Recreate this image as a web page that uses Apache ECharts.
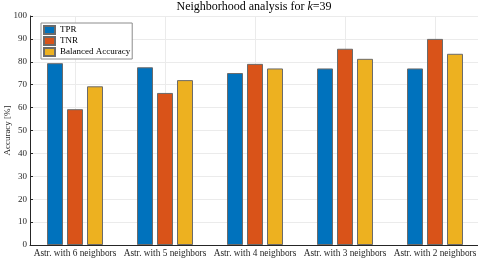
<!DOCTYPE html>
<html><head><meta charset="utf-8">
<script src="https://cdn.jsdelivr.net/npm/echarts@6/dist/echarts.min.js"></script>
<style>html,body{margin:0;padding:0;background:#fff}#c{width:478px;height:258px}</style>
</head><body><div id="c"></div>
<script>
const categories = ['Astr. with 6 neighbors','Astr. with 5 neighbors','Astr. with 4 neighbors','Astr. with 3 neighbors','Astr. with 2 neighbors'];
const tpr = [79.4, 77.6, 75.1, 77.1, 77.1];
const tnr = [59.3, 66.4, 79.1, 85.7, 90.0];
const bacc = [69.3, 72.0, 77.1, 81.3, 83.5];
const seriesNames = ['TPR','TNR','Balanced Accuracy'];
const colors = ['#0072BD','#D95319','#EDB120'];
const F = 'Liberation Serif';
const chart = echarts.init(document.getElementById('c'));
const mk = (name, data, i) => ({
  name, type:'bar', data, barWidth:16, barGap:'25%',
  itemStyle:{color:colors[i], borderColor:'#6b6b6b', borderWidth:1}
});
chart.setOption({
  animation:false,
  title:{text:'{a|Neighborhood analysis for }{b|k}{a|=39}', left:254, textAlign:'center', top:1, padding:0,
    textStyle:{rich:{a:{fontFamily:F,fontSize:12,fontWeight:'normal',color:'#000'},b:{fontFamily:F,fontSize:12,fontWeight:'normal',fontStyle:'italic',color:'#000'}}}},
  legend:{orient:'vertical', left:41, top:23, padding:[2,2,2,2], itemWidth:11, itemHeight:8, itemGap:1, itemTextGap:2,
    icon:'rect',
    borderColor:'#8c8c8c', borderWidth:1, backgroundColor:'#fff',
    textStyle:{fontFamily:F, fontSize:9, lineHeight:9.5, color:'#000'}, data:seriesNames},
  grid:{left:30, right:-2, top:16, bottom:13, containLabel:false, outerBoundsMode:'none'},
  xAxis:{type:'category', data:categories,
    axisLine:{lineStyle:{color:'#262626'}},
    axisTick:{inside:true, length:3, alignWithLabel:true, lineStyle:{color:'#262626'}},
    splitLine:{show:true, alignWithLabel:true, lineStyle:{color:'#ebebeb'}},
    axisLabel:{fontFamily:F, fontSize:9.3, color:'#262626', margin:4, interval:0}},
  yAxis:{type:'value', min:0, max:100, interval:10, name:'Accuracy [%]', nameLocation:'middle', nameGap:18,
    nameMoveOverlap:false,
    nameTextStyle:{fontFamily:F, fontSize:9, color:'#262626'},
    axisLine:{show:true, lineStyle:{color:'#262626'}},
    axisTick:{show:true, inside:true, length:3, lineStyle:{color:'#262626'}},
    splitLine:{lineStyle:{color:'#ebebeb'}},
    axisLabel:{fontFamily:F, fontSize:9, color:'#262626', margin:3}},
  series:[mk('TPR',tpr,0), mk('TNR',tnr,1), mk('Balanced Accuracy',bacc,2)]
});
</script></body></html>
